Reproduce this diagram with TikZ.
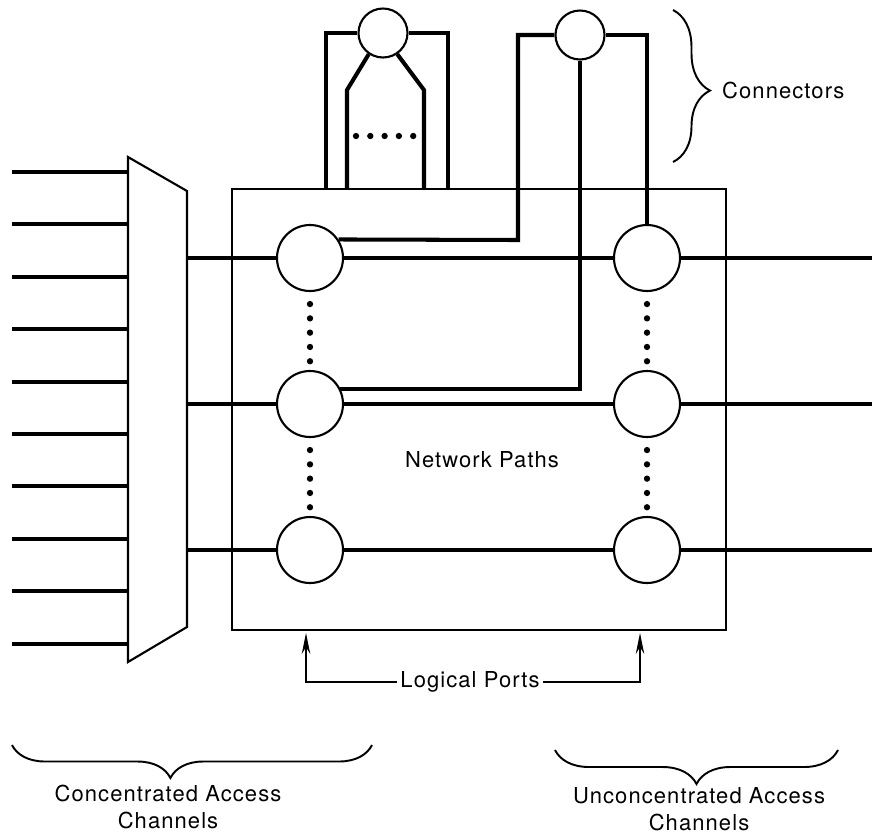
\documentclass[tikz,border=0pt]{standalone}
\usepackage{fontspec}
\setmainfont{TeX Gyre Heros}[LetterSpace=5]
\usetikzlibrary{arrows.meta,positioning,calc,decorations.pathreplacing}

\begin{document}
\begin{tikzpicture}[x=0.02cm, y=-0.02cm,
    every node/.style={font=\fontsize{12.5}{15}\selectfont},
    bus/.style={line width=2.3pt},
    frame/.style={line width=1.2pt},
    port/.style={circle, draw, line width=1.2pt, fill=white, minimum size=1.32cm, inner sep=0pt},
    conn/.style={circle, draw, line width=1.2pt, fill=white, minimum size=0.98cm, inner sep=0pt},
    brc/.style={decorate, line width=1.1pt},
    ptr/.style={line width=0.8pt, -{Stealth[length=0.42cm, width=0.17cm]}}]
  \useasboundingbox (0,0) rectangle (872,836);

  % Network box and concentrator
  \node[draw, frame, minimum width=9.88cm, minimum height=8.82cm, inner sep=0pt] (net) at (479,409.5) {};
  \draw[frame] (128,157) -- (187,191) -- (187,627) -- (128,662) -- cycle;
  \coordinate (muxL) at (128,0);
  \coordinate (muxR) at (187,0);
  \coordinate (edge) at (872,0);

  % Logical ports
  \node[port] (pL1) at (310,258) {};
  \node[port] (pL2) at (310,404) {};
  \node[port] (pL3) at (310,550) {};
  \node[port] (pR1) at (647,258) {};
  \node[port] (pR2) at (647,404) {};
  \node[port] (pR3) at (647,550) {};

  % Connectors
  \node[conn] (cA) at (383,33) {};
  \node[conn] (cB) at (580,35) {};

  % Access channels
  \foreach \k in {0,...,9} {
    \coordinate (in\k) at (12,{172+52.4*\k});
    \draw[bus] (in\k) -- (in\k -| muxL);
  }
  \foreach \r in {1,2,3} {
    \draw[bus] (pL\r.west -| muxR) -- (pL\r.west);
    \draw[bus] (pL\r.east) -- (pR\r.west);
    \draw[bus] (pR\r.east) -- (pR\r.east -| edge);
  }

  % Dots between ports
  \foreach \c in {pL,pR}
    \foreach \d in {0,...,4} {
      \fill ($(\c1.south)+(0,12+14.3*\d)$) circle (1.8pt);
      \fill ($(\c2.south)+(0,12+14.3*\d)$) circle (1.8pt);
    }

  % Connector A
  \coordinate (aL) at (326,189);
  \coordinate (aR) at (448,189);
  \coordinate (aIL) at (347,90);
  \coordinate (aIR) at (424,90);
  \draw[bus] (cA.west) -| (aL);
  \draw[bus] (cA.east) -| (aR);
  \draw[bus] (cA.236) -- (aIL) -- (aIL |- net.north);
  \draw[bus] (cA.304) -- (aIR) -- (aIR |- net.north);
  \foreach \d in {0,...,4}
    \fill (356+14.3*\d,136) circle (1.8pt);

  % Connector B
  \coordinate (bL) at (518,240);
  \draw[bus] (cB.west) -| (bL) -- (pL1.33);
  \draw[bus] (cB.south) |- (pL2.27);
  \draw[bus] (cB.east) -| (pR1.north);

  % Labels
  \node (np) at (482,460) {Network Paths};
  \node[inner sep=2pt] (lp) at (470,682) {Logical Ports};
  \coordinate (lpA) at (306,633);
  \coordinate (lpB) at (640,633);
  \draw[ptr] (lp.west) -| (lpA);
  \draw[ptr] (lp.east) -| (lpB);

  \draw[brc, decoration={brace, amplitude=0.74cm, aspect=0.53}] (673,10) -- (673,162);
  \node[anchor=west] (cn) at (716,90) {Connectors};

  \draw[brc, decoration={brace, amplitude=0.66cm, aspect=0.56}] (372,745) -- (12,745);
  \node[align=center] (ca) at (168,807) {Concentrated Access\\Channels};
  \draw[brc, decoration={brace, amplitude=0.68cm, aspect=0.5}] (838,750) -- (555,750);
  \node[align=center] (ua) at (699,809) {Unconcentrated Access\\Channels};
\end{tikzpicture}
\end{document}
